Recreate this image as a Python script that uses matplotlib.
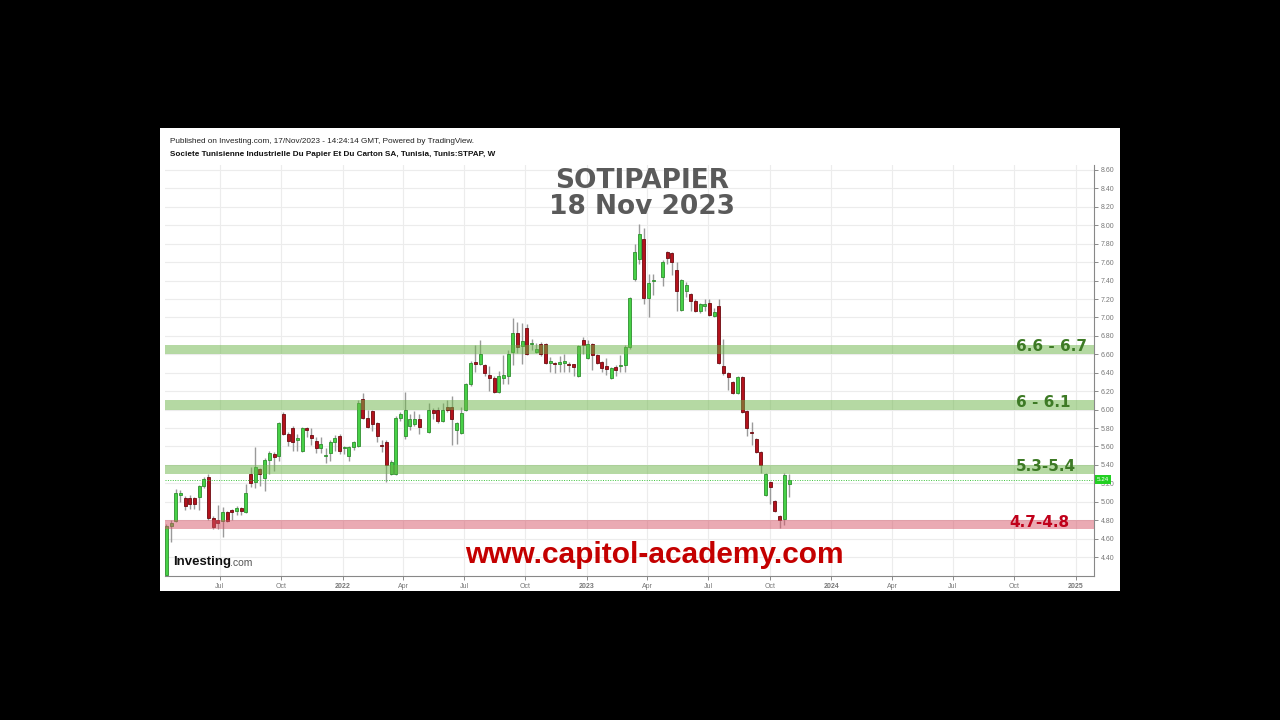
import numpy as np
import pandas as pd
import matplotlib
matplotlib.use("Agg")
import matplotlib.pyplot as plt
import matplotlib.transforms as mtransforms

plt.rcParams['font.family'] = ['Liberation Sans', 'DejaVu Sans']

# weekly OHLC
opens = [4.20, 4.74, 4.79, 5.07, 5.04, 5.04, 5.04, 5.05, 5.17, 5.27,
         4.82, 4.80, 4.79, 4.89, 4.91, 4.90, 4.93, 4.89, 5.30, 5.21,
         5.35, 5.26, 5.45, 5.52, 5.50, 5.95, 5.74, 5.80, 5.67, 5.55,
         5.80, 5.72, 5.66, 5.58, 5.50, 5.53, 5.65, 5.71, 5.58, 5.50,
         5.59, 5.60, 6.12, 5.91, 5.98, 5.85, 5.61, 5.65, 5.30, 5.30,
         5.91, 5.71, 5.82, 5.84, 5.90, 5.76, 6.00, 6.00, 5.88, 6.03,
         6.03, 5.78, 5.75, 6.00, 6.28, 6.52, 6.50, 6.48, 6.37, 6.34,
         6.19, 6.34, 6.36, 6.63, 6.83, 6.69, 6.89, 6.71, 6.62, 6.71,
         6.71, 6.51, 6.51, 6.50, 6.51, 6.49, 6.49, 6.36, 6.76, 6.56,
         6.71, 6.59, 6.52, 6.47, 6.34, 6.46, 6.47, 6.48, 6.68, 7.42,
         7.63, 7.85, 7.21, 7.39, 7.44, 7.71, 7.70, 7.52, 7.08, 7.29,
         7.25, 7.18, 7.07, 7.12, 7.16, 7.02, 7.12, 6.47, 6.40, 6.30,
         6.18, 6.35, 5.98, 5.76, 5.68, 5.54, 5.07, 5.21, 5.01, 4.85,
         4.81, 5.19]
highs = [4.76, 4.80, 5.14, 5.13, 5.06, 5.07, 5.05, 5.18, 5.27, 5.30,
         4.84, 4.96, 4.94, 4.90, 4.92, 4.95, 4.94, 5.19, 5.38, 5.59,
         5.37, 5.47, 5.55, 5.54, 5.87, 5.97, 5.76, 5.82, 5.74, 5.81,
         5.81, 5.80, 5.70, 5.70, 5.58, 5.67, 5.72, 5.73, 5.60, 5.60,
         5.66, 6.10, 6.18, 6.00, 6.00, 5.87, 5.67, 5.67, 5.45, 5.93,
         5.97, 6.19, 5.95, 5.98, 5.95, 6.07, 6.02, 6.03, 6.07, 6.10,
         6.15, 5.87, 6.03, 6.29, 6.53, 6.70, 6.76, 6.50, 6.47, 6.36,
         6.42, 6.59, 6.65, 6.99, 6.95, 6.94, 6.93, 6.77, 6.72, 6.73,
         6.72, 6.57, 6.52, 6.58, 6.60, 6.52, 6.50, 6.70, 6.79, 6.75,
         6.72, 6.60, 6.53, 6.56, 6.46, 6.48, 6.59, 6.70, 7.22, 7.80,
         8.01, 7.97, 7.47, 7.47, 7.62, 7.72, 7.71, 7.60, 7.42, 7.38,
         7.27, 7.20, 7.16, 7.20, 7.20, 7.10, 7.20, 6.77, 6.41, 6.31,
         6.36, 6.36, 6.00, 5.86, 5.69, 5.55, 5.31, 5.22, 5.02, 4.86,
         5.31, 5.30]
lows = [4.20, 4.56, 4.78, 5.00, 4.91, 4.92, 4.92, 4.91, 5.15, 4.80,
        4.70, 4.70, 4.62, 4.78, 4.80, 4.86, 4.86, 4.88, 5.16, 5.15,
        5.17, 5.12, 5.30, 5.33, 5.44, 5.72, 5.60, 5.55, 5.55, 5.54,
        5.70, 5.62, 5.53, 5.53, 5.42, 5.44, 5.55, 5.52, 5.52, 5.44,
        5.56, 5.59, 5.90, 5.80, 5.77, 5.65, 5.54, 5.21, 5.29, 5.29,
        5.88, 5.68, 5.78, 5.82, 5.74, 5.75, 5.90, 5.85, 5.86, 5.97,
        5.62, 5.63, 5.74, 5.98, 6.26, 6.41, 6.48, 6.36, 6.20, 6.18,
        6.18, 6.28, 6.28, 6.48, 6.61, 6.50, 6.59, 6.65, 6.61, 6.58,
        6.50, 6.41, 6.40, 6.41, 6.41, 6.41, 6.36, 6.35, 6.60, 6.55,
        6.43, 6.49, 6.41, 6.38, 6.33, 6.36, 6.41, 6.41, 6.66, 7.40,
        7.58, 7.15, 7.01, 7.24, 7.34, 7.58, 7.46, 7.07, 7.07, 7.22,
        7.07, 7.06, 7.05, 7.07, 7.02, 7.00, 6.49, 6.38, 6.21, 6.17,
        6.17, 5.96, 5.71, 5.62, 5.53, 5.31, 5.06, 4.98, 4.89, 4.71,
        4.75, 5.05]
closes = [4.74, 4.77, 5.10, 5.10, 4.95, 4.98, 4.98, 5.17, 5.25, 4.82,
          4.73, 4.77, 4.89, 4.79, 4.89, 4.93, 4.90, 5.10, 5.20, 5.38,
          5.30, 5.45, 5.53, 5.49, 5.85, 5.74, 5.66, 5.65, 5.69, 5.80,
          5.78, 5.69, 5.58, 5.63, 5.51, 5.65, 5.69, 5.55, 5.58, 5.59,
          5.65, 6.07, 5.91, 5.81, 5.84, 5.71, 5.60, 5.40, 5.43, 5.91,
          5.95, 6.00, 5.90, 5.90, 5.81, 6.00, 5.96, 5.88, 6.00, 6.00,
          5.90, 5.85, 5.96, 6.28, 6.51, 6.49, 6.60, 6.40, 6.34, 6.19,
          6.36, 6.37, 6.60, 6.83, 6.68, 6.74, 6.60, 6.71, 6.66, 6.60,
          6.51, 6.51, 6.49, 6.51, 6.51, 6.48, 6.46, 6.69, 6.70, 6.71,
          6.59, 6.51, 6.45, 6.44, 6.45, 6.43, 6.48, 6.68, 7.21, 7.71,
          7.91, 7.21, 7.37, 7.41, 7.60, 7.65, 7.60, 7.29, 7.41, 7.35,
          7.18, 7.07, 7.15, 7.15, 7.03, 7.06, 6.51, 6.40, 6.35, 6.18,
          6.35, 5.97, 5.80, 5.75, 5.54, 5.40, 5.30, 5.16, 4.90, 4.80,
          5.29, 5.24]
# weeks without trades on this illiquid stock
no_trade_weeks = ["2022-05-02", "2023-04-17"]
weeks = pd.date_range("2021-04-12", "2023-10-30", freq="7D")
weeks = weeks[~weeks.isin(pd.to_datetime(no_trade_weeks))]

zone_lo = [6.6, 6.0, 5.3, 4.7]
zone_hi = [6.7, 6.1, 5.4, 4.8]
zone_labels = ["6.6 - 6.7", "6 - 6.1", "5.3-5.4", "4.7-4.8"]
zone_kind = ["support", "support", "support", "resistance"]
last_price = 5.24

o = np.array(opens); h = np.array(highs); l = np.array(lows); c = np.array(closes)
up = c >= o

fig = plt.figure(figsize=(12.8, 7.2), dpi=100, facecolor="black")
bg = fig.add_axes([0.125, 0.179, 0.75, 0.643], zorder=-5)
bg.set_facecolor("white")
bg.set_xticks([]); bg.set_yticks([])
for s in bg.spines.values():
    s.set_visible(False)

ax = fig.add_axes([0.1289, 0.2, 0.7258, 0.5708], zorder=1)
ax.set_facecolor("none")

# wicks + bodies
ax.vlines(weeks, l, h, color="#9a9a9a", lw=1, zorder=2)
body_h = np.maximum(np.abs(c - o), 0.012)
ax.bar(weeks[up], body_h[up], bottom=np.minimum(o, c)[up], width=4.5,
       color="#47d147", edgecolor="#2f8f2f", lw=0.6, zorder=3)
ax.bar(weeks[~up], body_h[~up], bottom=np.minimum(o, c)[~up], width=4.5,
       color="#b3121c", edgecolor="#6e0a10", lw=0.6, zorder=3)

# zones
for lo, hi, lab, kind in zip(zone_lo, zone_hi, zone_labels, zone_kind):
    if kind == "support":
        ax.axhspan(lo, hi, color="#6cb548", alpha=0.5, lw=0, zorder=4)
        ax.text(pd.Timestamp("2024-10-03"), (lo + hi) / 2 + 0.03, lab, color="#3d7a25",
                fontsize=11, fontweight="bold", family="DejaVu Sans",
                va="center", ha="left", zorder=6)
    else:
        ax.axhspan(lo, hi, color="#d65668", alpha=0.5, lw=0, zorder=4)
        ax.text(pd.Timestamp("2024-09-24"), (lo + hi) / 2 + 0.03, lab, color="#c0001a",
                fontsize=11, fontweight="bold", family="DejaVu Sans",
                va="center", ha="left", zorder=6)

# last price line + marker
ax.axhline(last_price, color="#3cc43c", lw=0.7, ls=(0, (1, 1.5)), zorder=4)
trans = mtransforms.blended_transform_factory(ax.transAxes, ax.transData)
ax.text(1.003, last_price, f"{last_price:.2f}", transform=trans, fontsize=4.5, color="white",
        va="center", ha="left",
        bbox=dict(boxstyle="square,pad=0.35", facecolor="#22d022", edgecolor="none"))

ax.set_xlim(pd.Timestamp("2021-04-10"), pd.Timestamp("2025-01-28"))
ax.set_ylim(4.194, 8.654)

# axes styling
ax.yaxis.tick_right()
ax.set_yticks(np.arange(4.4, 8.61, 0.2))
ax.yaxis.set_major_formatter(plt.FuncFormatter(lambda v, p: f"{v:.2f}"))
qticks = pd.date_range("2021-07-01", "2025-01-01", freq="QS")
ax.set_xticks(qticks)
ax.set_xticklabels([str(d.year) if d.month == 1 else d.strftime("%b") for d in qticks])
for lbl, d in zip(ax.get_xticklabels(), qticks):
    if d.month == 1:
        lbl.set_fontweight("bold")
        lbl.set_color("#444444")
ax.tick_params(axis="both", labelsize=5, colors="#777777", length=3, width=0.6, pad=2)
ax.grid(True, color="#ececec", lw=0.8, zorder=0)
ax.set_axisbelow(True)
for s in ["left", "top"]:
    ax.spines[s].set_visible(False)
for s in ["right", "bottom"]:
    ax.spines[s].set_color("#888888")
    ax.spines[s].set_linewidth(0.8)

# texts
fig.text(0.1328, 0.804, "Published on Investing.com, 17/Nov/2023 - 14:24:14 GMT, Powered by TradingView.",
         fontsize=5.9, color="#222222", va="center")
fig.text(0.1328, 0.7848, "Societe Tunisienne Industrielle Du Papier Et Du Carton SA, Tunisia, Tunis:STPAP, W",
         fontsize=5.9, fontweight="bold", color="#111111", va="center")
fig.text(0.5016, 0.7486, "SOTIPAPIER", fontsize=19, fontweight="bold", color="#5a5a5a",
         family="DejaVu Sans", ha="center", va="center")
fig.text(0.5016, 0.7125, "18 Nov 2023", fontsize=19, fontweight="bold", color="#5a5a5a",
         family="DejaVu Sans", ha="center", va="center")
fig.text(0.511, 0.229, "www.capitol-academy.com", fontsize=21.5, fontweight="bold", color="#c40000",
         ha="center", va="center")
fig.text(0.1352, 0.2194, "Investing", fontsize=9.5, fontweight="bold", color="#111111", va="center")
fig.text(0.1797, 0.2180, ".com", fontsize=7.5, color="#555555", va="center")

fig.savefig("out.png", dpi=100, facecolor="black")
